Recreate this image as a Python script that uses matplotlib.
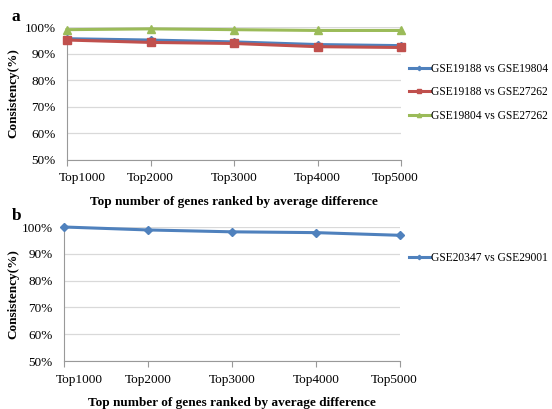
import matplotlib.pyplot as plt
import matplotlib.transforms as mtransforms
from matplotlib.ticker import FuncFormatter

categories = ["Top1000", "Top2000", "Top3000", "Top4000", "Top5000"]

# panel a
a_labels = ["GSE19188 vs GSE19804", "GSE19188 vs GSE27262", "GSE19804 vs GSE27262"]
a_blue = [95.6, 95.1, 94.4, 93.4, 93.0]
a_red = [95.1, 94.2, 93.8, 92.6, 92.3]
a_green = [99.0, 99.3, 99.0, 98.7, 98.7]

# panel b
b_labels = ["GSE20347 vs GSE29001"]
b_blue = [100.0, 98.9, 98.2, 97.9, 96.9]

yticks = [50, 60, 70, 80, 90, 100]

plt.rcParams['font.family'] = ['Liberation Serif', 'DejaVu Serif']

fig = plt.figure(figsize=(5.52, 4.09), dpi=100)
ax1 = fig.add_axes([67/552, 1-160/409, 334/552, 133/409])
ax2 = fig.add_axes([64/552, 1-361/409, 336/552, 134/409])

styles = [("#4F81BD", "D", 4.5), ("#C0504D", "s", 6), ("#9BBB59", "^", 6)]


def setup(ax):
    ax.set_ylim(50, 100)
    ax.set_xlim(0, len(categories)-1)
    ax.set_yticks(yticks)
    ax.yaxis.set_major_formatter(FuncFormatter(lambda v, p: "%d%%" % v))
    ax.set_xticks(range(len(categories)))
    ax.set_xticklabels(categories)
    ax.tick_params(axis="y", length=0, labelsize=9.5, pad=8)
    ax.tick_params(axis="x", length=4, color="#999999", labelsize=9.5, pad=5)
    ax.grid(axis="y", color="#d9d9d9", linewidth=0.9)
    ax.set_axisbelow(True)
    for s in ["top", "right"]:
        ax.spines[s].set_visible(False)
    for s in ["left", "bottom"]:
        ax.spines[s].set_color("#999999")
    ax.set_ylabel("Consistency(%)", fontsize=9.5, fontweight="bold")
    bb = ax.get_position()
    ax.yaxis.set_label_coords(19/552, (bb.y0 + bb.y1) / 2, transform=fig.transFigure)
    ax.set_xlabel("Top number of genes ranked by average difference",
                  fontsize=9.5, fontweight="bold", labelpad=8)
    # excel keeps the end labels inside the plot width
    labs = ax.get_xticklabels()
    labs[0].set_transform(labs[0].get_transform() +
                          mtransforms.ScaledTranslation(15/100, 0, fig.dpi_scale_trans))
    labs[-1].set_transform(labs[-1].get_transform() +
                           mtransforms.ScaledTranslation(-6/100, 0, fig.dpi_scale_trans))


x = range(len(categories))
for vals, lab, (c, m, ms) in zip([a_blue, a_red, a_green], a_labels, styles):
    ax1.plot(x, vals, color=c, marker=m, markersize=ms, linewidth=2.2,
             label=lab, clip_on=False, zorder=3)
for vals, lab, (c, m, ms) in zip([b_blue], b_labels, styles):
    ax2.plot(x, vals, color=c, marker=m, markersize=ms, linewidth=2.2,
             label=lab, clip_on=False, zorder=3)

setup(ax1)
setup(ax2)

leg_kw = dict(frameon=False, fontsize=8.3, handlelength=1.8, handletextpad=0.15,
              labelspacing=0.98, markerscale=0.5, borderaxespad=0, borderpad=0)
ax1.legend(loc="upper left", bbox_to_anchor=(409/552, 1-63/409),
           bbox_transform=fig.transFigure, **leg_kw)
ax2.legend(loc="upper left", bbox_to_anchor=(409/552, 1-252/409),
           bbox_transform=fig.transFigure, **leg_kw)

fig.text(12/552, 1-17/409, "a", fontsize=12.5, fontweight="bold", va="center", ha="left")
fig.text(12/552, 1-216/409, "b", fontsize=12.5, fontweight="bold", va="center", ha="left")

fig.savefig("out.png", dpi=100)
